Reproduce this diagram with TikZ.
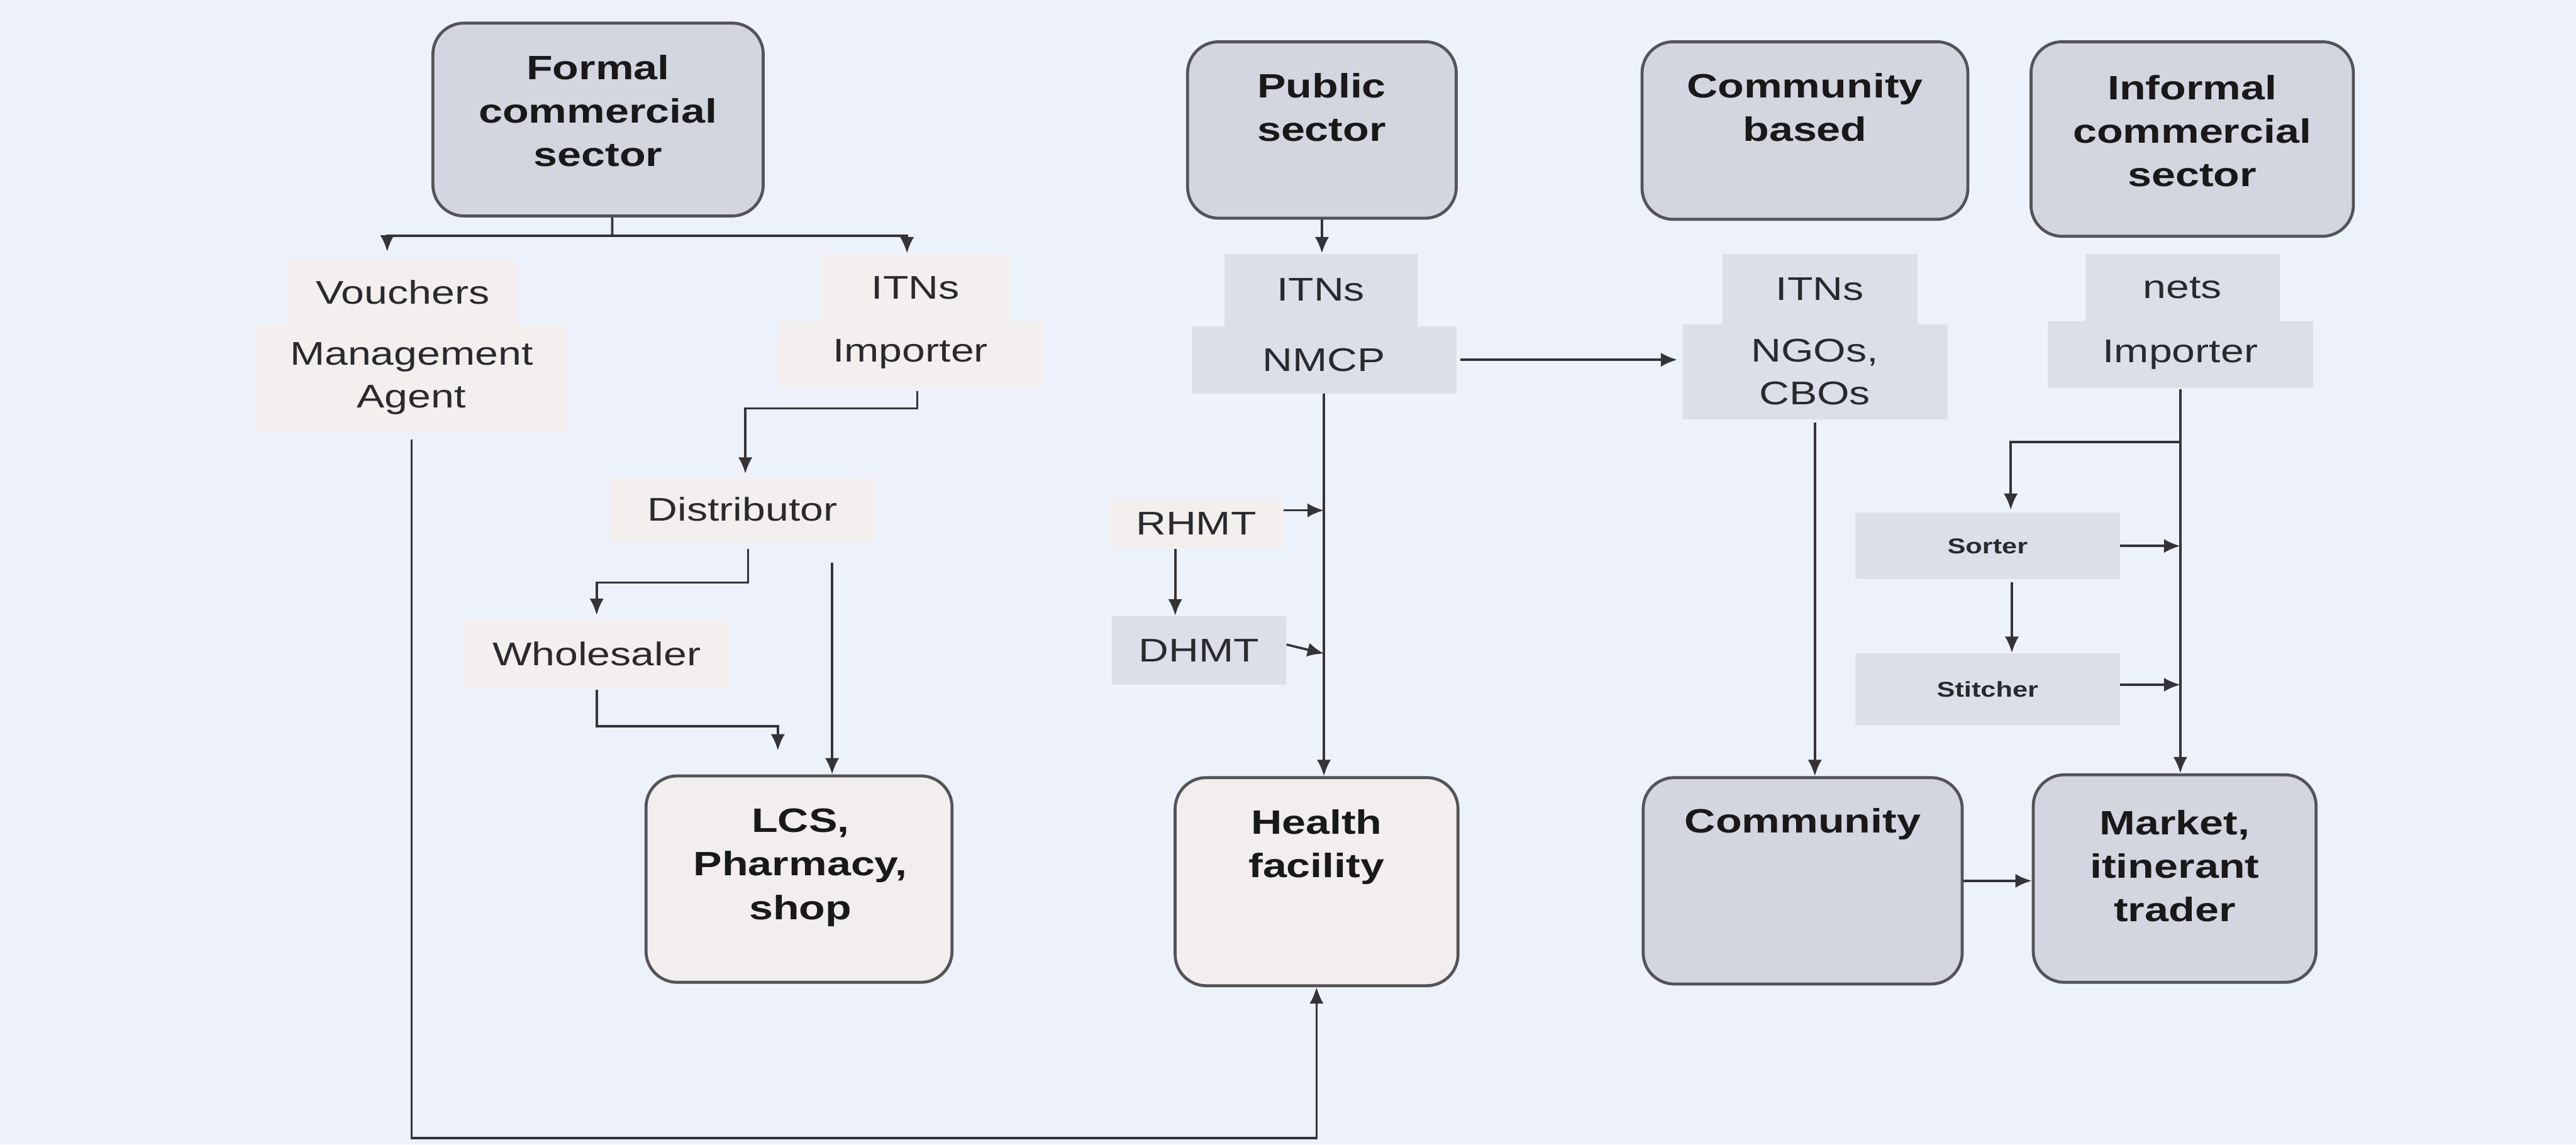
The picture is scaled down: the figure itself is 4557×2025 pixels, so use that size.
\documentclass[tikz,border=0pt]{standalone}
\usepackage{fontspec}
\setmainfont{Liberation Sans}[FakeStretch=1.27]
\usetikzlibrary{arrows.meta}

\definecolor{pagebg}{RGB}{237,241,250}
\definecolor{sectorfill}{RGB}{211,214,222}
\definecolor{outletfill}{RGB}{242,238,237}
\definecolor{edgegray}{RGB}{84,84,88}
\definecolor{warmtagfill}{RGB}{243,239,238}
\definecolor{cooltagfill}{RGB}{220,223,231}
\definecolor{inkline}{RGB}{52,52,56}
\definecolor{inktext}{RGB}{42,42,46}

\tikzset{
  % one unit = one pixel of a 4557 x 2025 canvas, y pointing down
  x=0.01cm, y=-0.01cm,
  sectorbox/.style={draw=edgegray, line width=1.5pt, rounded corners=0.55cm,
    fill=sectorfill, inner sep=0},
  outletbox/.style={sectorbox, fill=outletfill},
  boxtext/.style={font=\fontsize{17}{21.9}\selectfont\bfseries, text=black!90,
    align=center, inner sep=0},
  tag/.style={inner sep=0, font=\fontsize{16.5}{21.5}\selectfont, text=inktext,
    align=center},
  warmtag/.style={tag, fill=warmtagfill},
  cooltag/.style={tag, fill=cooltagfill},
  smalltag/.style={cooltag, font=\fontsize{10.8}{13}\selectfont\bfseries},
  line/.style={draw=inkline, line width=1.15pt},
  arr/.style={line, -{Latex[length=0.29cm,width=0.25cm]}},
}

\begin{document}
\begin{tikzpicture}
  \fill[pagebg] (0,0) rectangle (4557,2025);
  \useasboundingbox (0,0) rectangle (4557,2025);

  % ---- supply sectors (top row)
  \node[sectorbox, minimum width=5.84cm, minimum height=3.41cm] (formal) at (1058,211.5) {};
  \node[boxtext] (formal-t) at (1058,196) {Formal\\commercial\\sector};
  \node[sectorbox, minimum width=4.75cm, minimum height=3.12cm] (public) at (2338.5,230) {};
  \node[boxtext] (public-t) at (2338,190) {Public\\sector};
  \node[sectorbox, minimum width=5.76cm, minimum height=3.14cm] (commbased) at (3193,231) {};
  \node[boxtext] (commbased-t) at (3193,190) {Community\\based};
  \node[sectorbox, minimum width=5.70cm, minimum height=3.44cm] (informal) at (3878,246) {};
  \node[boxtext] (informal-t) at (3878,232) {Informal\\commercial\\sector};

  % ---- delivery points (bottom row)
  \node[outletbox, minimum width=5.41cm, minimum height=3.65cm] (lcs) at (1413.5,1555.5) {};
  \node[boxtext] (lcs-t) at (1416,1535) {LCS,\\Pharmacy,\\shop};
  \node[outletbox, minimum width=5.00cm, minimum height=3.68cm] (health) at (2329,1560) {};
  \node[boxtext] (health-t) at (2329,1499) {Health\\facility};
  \node[sectorbox, minimum width=5.64cm, minimum height=3.65cm] (community) at (3189,1558.5) {};
  \node[boxtext] (community-t) at (3189,1458) {Community};
  \node[sectorbox, minimum width=5.00cm, minimum height=3.67cm] (market) at (3847,1554.5) {};
  \node[boxtext] (market-t) at (3847,1532) {Market,\\itinerant\\trader};

  % ---- intermediaries
  \node[warmtag, minimum width=4.05cm, minimum height=1.18cm] (vouch) at (712.5,517) {Vouchers};
  \node[warmtag, minimum width=5.54cm, minimum height=1.88cm] (mgmt) at (728,670) {Management\\Agent};
  \node[warmtag, minimum width=3.35cm, minimum height=1.20cm] (itnsL) at (1619.5,509) {ITNs};
  \node[warmtag, minimum width=4.69cm, minimum height=1.15cm] (impL) at (1610.5,626.5) {Importer};
  \node[warmtag, minimum width=4.69cm, minimum height=1.14cm] (dist) at (1313.5,901) {Distributor};
  \node[warmtag, minimum width=4.69cm, minimum height=1.19cm] (whole) at (1055.5,1156.5) {Wholesaler};

  \node[cooltag, minimum width=3.41cm, minimum height=1.28cm] (itnsP) at (2336.5,513) {ITNs};
  \node[cooltag, minimum width=4.68cm, minimum height=1.19cm] (nmcp) at (2342,636.5) {NMCP};
  \node[warmtag, minimum width=3.08cm, minimum height=0.88cm] (rhmt) at (2116,926) {RHMT};
  \node[cooltag, minimum width=3.08cm, minimum height=1.21cm] (dhmt) at (2121,1150.5) {DHMT};

  \node[cooltag, minimum width=3.45cm, minimum height=1.25cm] (itnsC) at (3219.5,511.5) {ITNs};
  \node[cooltag, minimum width=4.69cm, minimum height=1.68cm] (ngos) at (3210.5,658) {NGOs,\\CBOs};

  \node[cooltag, minimum width=3.44cm, minimum height=1.20cm] (nets) at (3861,509) {nets};
  \node[cooltag, minimum width=4.70cm, minimum height=1.17cm] (impR) at (3857,627.5) {Importer};
  \node[smalltag, minimum width=4.68cm, minimum height=1.18cm] (sorter) at (3516,966) {Sorter};
  \node[smalltag, minimum width=4.68cm, minimum height=1.27cm] (stitcher) at (3516,1219.5) {Stitcher};

  % ---- formal commercial chain
  \coordinate (fsplit) at (1083,417);
  \draw[line] ([xshift=.25cm]formal.south) -- (fsplit);
  \draw[arr] (fsplit) -| ([xshift=-.275cm,yshift=.12cm]vouch.north);
  \draw[arr] (fsplit) -| ([xshift=-.15cm]itnsL.north);
  \draw[arr] ([xshift=.12cm,yshift=-.07cm]impL.south) -- ++(0,-.31cm)
    -| ([xshift=.05cm,yshift=.05cm]dist.north);
  \draw[arr] ([xshift=.1cm,yshift=-.12cm]dist.south) -- ++(0,-.6cm)
    -| ([yshift=.08cm]whole.north);
  \coordinate (distdrop) at (1472,996);
  \draw[arr] (distdrop) -- (distdrop |- lcs.north);
  \coordinate (wholetip) at (1376,1328);
  \draw[arr] ([yshift=-.04cm]whole.south) -- ++(0,-.64cm) -| (wholetip);

  % vouchers go round the bottom to the health facility
  \coordinate (base) at (0,2014);
  \draw[arr] ([yshift=-.13cm]mgmt.south) -- (mgmt.south |- base)
    -- (health.south |- base) -- (health.south);

  % ---- public sector chain
  \draw[arr] (public.south) -- (public.south |- itnsP.north);
  \draw[arr] ([xshift=.07cm]nmcp.east) -- ([xshift=-.08cm]ngos.west |- nmcp.east);
  \draw[arr] (nmcp.south) -- (nmcp.south |- health.north);
  \draw[arr] ([yshift=.23cm]rhmt.east) -- ([yshift=.23cm]rhmt.east -| nmcp.south);
  \draw[arr] ([xshift=-.37cm]rhmt.south) -- ([xshift=-.37cm]rhmt.south |- dhmt.north);
  \draw[arr] ([yshift=.1cm]dhmt.east) -- ([yshift=-.06cm]dhmt.east -| nmcp.south);

  % ---- community chain
  \draw[arr] ([yshift=-.05cm]ngos.south) -- (ngos.south |- community.north);
  \draw[arr] (community.east) -- (market.west |- community.east);

  % ---- informal commercial chain
  \draw[arr] ([yshift=-.02cm]impR.south) -- (impR.south |- market.north);
  \draw[arr] ([yshift=-.95cm]impR.south) -| ([xshift=.41cm,yshift=.04cm]sorter.north);
  \draw[arr] ([xshift=.43cm,yshift=-.05cm]sorter.south) -- ([xshift=.43cm]stitcher.north);
  \draw[arr] (sorter.east) -- (sorter.east -| impR.south);
  \draw[arr] ([yshift=.08cm]stitcher.east) -- ([yshift=.08cm]stitcher.east -| impR.south);
\end{tikzpicture}
\end{document}
